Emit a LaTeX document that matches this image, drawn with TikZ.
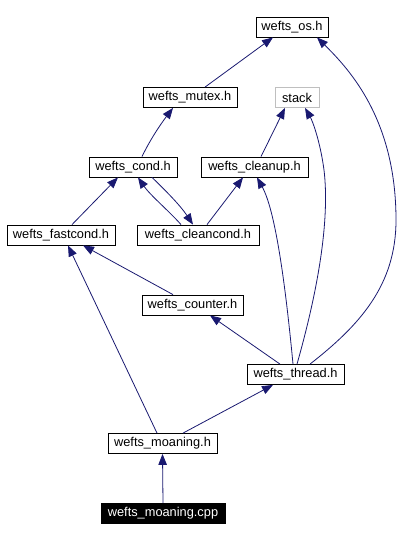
\documentclass[tikz,border=0pt]{standalone}
\usepackage{fontspec}
\setmainfont{Liberation Sans}
\usetikzlibrary{arrows.meta}
\definecolor{edgeblue}{HTML}{191970}
\definecolor{stackgray}{HTML}{BFBFBF}
\begin{document}
\begin{tikzpicture}[x=1pt,y=-1pt,
  box/.style={draw=black,line width=0.8pt,inner sep=0pt,minimum height=20pt,font=\fontsize{12.8}{14}\selectfont,text=black},
  graybox/.style={box,draw=stackgray},
  mainbox/.style={box,fill=black,text=white},
  edge/.style={draw=edgeblue,line width=0.8pt,-{Triangle[length=11pt,width=8.5pt]}}]
\useasboundingbox (0,0) rectangle (414,540);
\node[box,minimum width=72pt] (os) at (292,27) {wefts\_os.h};
\node[box,minimum width=94pt] (mutex) at (190,97.5) {wefts\_mutex.h};
\node[graybox,minimum width=44pt] (stack) at (297,97.5) {stack};
\node[box,minimum width=88pt] (cond) at (133,167) {wefts\_cond.h};
\node[box,minimum width=107pt] (cleanup) at (254.5,167) {wefts\_cleanup.h};
\node[box,minimum width=108pt] (fastcond) at (61,235) {wefts\_fastcond.h};
\node[box,minimum width=122pt] (cleancond) at (198,235) {wefts\_cleancond.h};
\node[box,minimum width=101pt] (counter) at (192.5,305) {wefts\_counter.h};
\node[box,minimum width=97pt] (thread) at (295.5,374.5) {wefts\_thread.h};
\node[box,minimum width=109pt] (moaning) at (162.5,443.5) {wefts\_moaning.h};
\node[mainbox,minimum width=124pt] (cpp) at (163,513.5) {wefts\_moaning.cpp};
% edges
\draw[edge] ([xshift=15pt]mutex.north) -- ([xshift=-19pt]os.south);
\draw[edge] ([xshift=14.5pt]thread.north) .. controls (360,325) and (396,285) .. (396,220)
  .. controls (396,120) and (350,70) .. ([xshift=25pt]os.south);
\draw[edge] ([xshift=9pt]cond.north) .. controls (150,140) and (160,125) .. ([xshift=-17pt]mutex.south);
\draw[edge] ([xshift=6.5pt]cleanup.north) -- ([xshift=-12pt]stack.south);
\draw[edge] ([xshift=1.5pt]thread.north) .. controls (318,290) and (330,220) .. (324,170)
  .. controls (320,140) and (312,120) .. ([xshift=8pt]stack.south);
\draw[edge] ([xshift=11pt]fastcond.north) -- ([xshift=-15pt]cond.south);
\draw[edge] ([xshift=-17pt]cleancond.north) .. controls (170,212) and (150,195) .. ([xshift=5pt]cond.south);
\draw[edge] ([xshift=19pt]cond.south) .. controls (165,190) and (180,205) .. ([xshift=-5pt]cleancond.north);
\draw[edge] ([xshift=9pt]cleancond.north) -- ([xshift=-11.5pt]cleanup.south);
\draw[edge] ([xshift=-2.5pt]thread.north) .. controls (285,280) and (275,210) .. ([xshift=2.5pt]cleanup.south);
\draw[edge] ([xshift=-19.5pt]counter.north) -- ([xshift=22pt]fastcond.south);
\draw[edge] ([xshift=-5.5pt]moaning.north) -- ([xshift=7pt]fastcond.south);
\draw[edge] ([xshift=-15.5pt]thread.north) -- ([xshift=17.5pt]counter.south);
\draw[edge] ([xshift=20.5pt]moaning.north) -- ([xshift=-22.5pt]thread.south);
\draw[edge] (cpp.north) -- (moaning.south);
\end{tikzpicture}
\end{document}
